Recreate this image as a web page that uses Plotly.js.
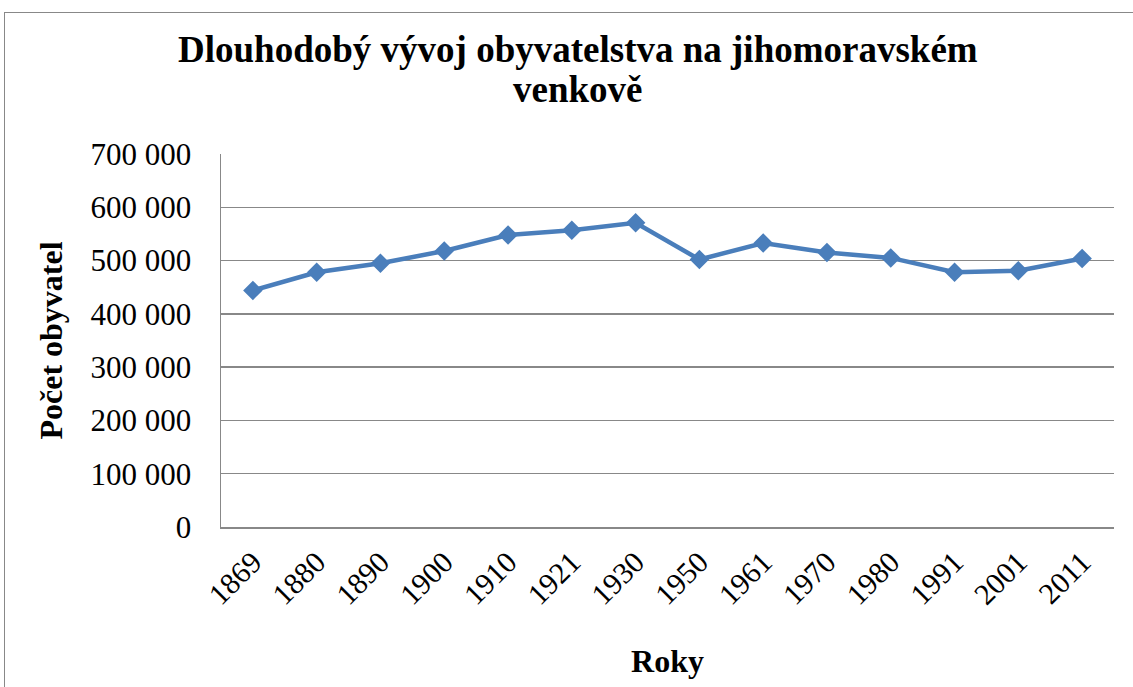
<!DOCTYPE html>
<html><head><meta charset="utf-8">
<script src="https://cdn.plot.ly/plotly-3.0.1.min.js"></script>
<style>
html,body{margin:0;padding:0;background:#fff;overflow:hidden;}
#frame{position:absolute;left:4px;top:12px;width:1140px;height:700px;border:1.5px solid #888;box-sizing:border-box;}
#chart{position:absolute;left:0;top:0;width:1140px;height:700px;}
</style></head>
<body>
<div id="frame"><div id="chart"></div></div>
<script>
var years = ["1869","1880","1890","1900","1910","1921","1930","1950","1961","1970","1980","1991","2001","2011"];
var population = [444000,478000,495000,518000,548000,557000,571000,502000,533000,515000,505000,478000,481000,504000];
var yTicks = [0,100000,200000,300000,400000,500000,600000,700000];
var titleLine1 = 'Dlouhodobý vývoj obyvatelstva na jihomoravském';
var titleLine2 = 'venkově';

var serif = "Liberation Serif, Times New Roman, serif";
var trace = {
  x: years, y: population, type: 'scatter', mode: 'lines+markers',
  line: {color: '#4a7ebb', width: 4.5},
  marker: {symbol: 'diamond', size: 15, color: '#4a7ebb'},
  hoverinfo: 'skip'
};
var layout = {
  width: 1140, height: 700,
  margin: {l: 216, r: 31, t: 141, b: 186},
  paper_bgcolor: '#fff', plot_bgcolor: '#fff',
  separators: ', ',
  showlegend: false,
  font: {family: serif, color: '#000'},
  annotations: [{
    text: '<b>' + titleLine1 + '</b>', xref: 'paper', yref: 'paper',
    x: 0.4, y: 1.279, xanchor: 'center', yanchor: 'middle', showarrow: false,
    font: {family: serif, size: 37, color: '#000'}
  }, {
    text: '<b>' + titleLine2 + '</b>', xref: 'paper', yref: 'paper',
    x: 0.4, y: 1.172, xanchor: 'center', yanchor: 'middle', showarrow: false,
    font: {family: serif, size: 37, color: '#000'}
  }],
  xaxis: {
    type: 'category', range: [-0.5, 13.5], tickangle: -45,
    tickfont: {family: serif, size: 30},
    showgrid: false, showline: true, linecolor: '#888', linewidth: 1.5,
    ticks: '', ticklen: 0, ticklabelstandoff: 4,
    title: {text: '<b>Roky</b>', font: {family: serif, size: 32}, standoff: 40}
  },
  yaxis: {
    range: [0, 700000], tickvals: yTicks, tickformat: ',d',
    tickfont: {family: serif, size: 31},
    showgrid: true, gridcolor: '#888', gridwidth: 1.5,
    showline: true, linecolor: '#888', linewidth: 1.5,
    zeroline: false, ticks: '', ticklen: 0, ticklabelstandoff: 22,
    title: {text: '<b>Počet obyvatel</b>', font: {family: serif, size: 32}, standoff: 18}
  }
};
Plotly.newPlot('chart', [trace], layout, {displayModeBar: false, staticPlot: true});
</script>
</body></html>
